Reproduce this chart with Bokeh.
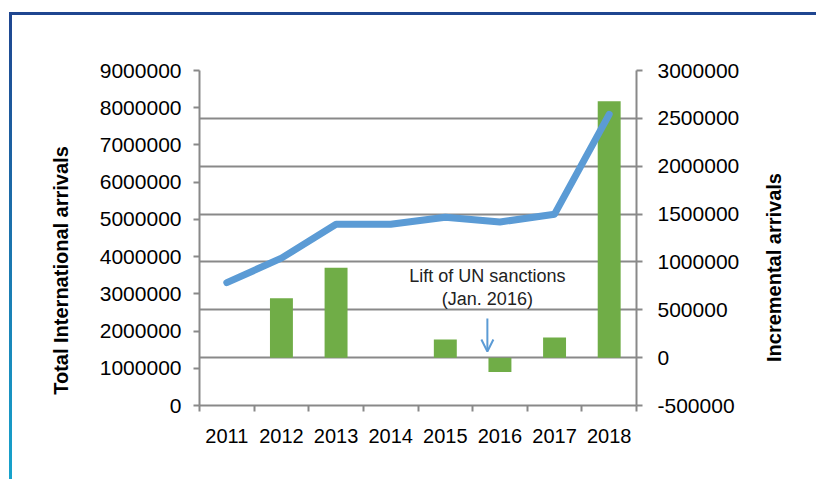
from math import pi
from bokeh.plotting import figure
from bokeh.models import (Range1d, LinearAxis, FixedTicker, Label, Arrow, OpenHead,
                          ColumnDataSource, Grid, NumeralTickFormatter)
from bokeh.layouts import column, row
from bokeh.embed import file_html
from bokeh.resources import INLINE

years = ["2011", "2012", "2013", "2014", "2015", "2016", "2017", "2018"]
total_arrivals = [3300000, 3960000, 4870000, 4870000, 5060000, 4930000, 5140000, 7820000]
incremental_arrivals = [0, 620000, 940000, 0, 190000, -150000, 210000, 2680000]
left_ticks = [0, 1000000, 2000000, 3000000, 4000000, 5000000, 6000000, 7000000, 8000000, 9000000]
right_ticks = [-500000, 0, 500000, 1000000, 1500000, 2000000, 2500000, 3000000]
left_title = "Total International arrivals"
right_title = "Incremental arrivals"

FONT = "Liberation Sans"
GRAY = "#898989"
H = 464

xpos = [i + 0.5 for i in range(len(years))]
src = ColumnDataSource(dict(x=xpos, total=total_arrivals, inc=incremental_arrivals))

p = figure(width=660, height=H, output_backend="svg", toolbar_location=None,
           x_range=Range1d(0, len(years)), y_range=Range1d(left_ticks[0], left_ticks[-1]),
           min_border_left=109, min_border_right=114, min_border_top=55, min_border_bottom=74,
           background_fill_color="white", border_fill_color="white")
p.outline_line_color = None
p.extra_y_ranges = {"inc": Range1d(right_ticks[0], right_ticks[-1])}

# grids from the right axis
p.xgrid.visible = False
p.ygrid.visible = False
g = Grid(dimension=1, ticker=FixedTicker(ticks=right_ticks), y_range_name="inc",
         grid_line_color=GRAY, grid_line_width=2)
p.add_layout(g)

# x axis
xa = p.xaxis[0]
xa.ticker = FixedTicker(ticks=xpos, minor_ticks=list(range(len(years) + 1)))
xa.major_label_overrides = {x: y for x, y in zip(xpos, years)}
xa.major_tick_out = 0
xa.major_tick_in = 0
xa.minor_tick_out = 6
xa.minor_tick_in = 0
xa.minor_tick_line_color = GRAY
xa.minor_tick_line_width = 2
xa.axis_line_color = GRAY
xa.axis_line_width = 2
xa.major_label_text_font = FONT
xa.major_label_text_font_size = "20px"
xa.major_label_text_color = "black"
xa.major_label_standoff = 17

# left axis
ya = p.yaxis[0]
ya.ticker = FixedTicker(ticks=left_ticks)
ya.formatter = NumeralTickFormatter(format="0")
ya.major_tick_out = 6
ya.major_tick_in = 0
ya.minor_tick_line_color = None
ya.major_tick_line_color = GRAY
ya.major_tick_line_width = 2
ya.axis_line_color = GRAY
ya.axis_line_width = 2
ya.major_label_text_font = FONT
ya.major_label_text_font_size = "21px"
ya.major_label_text_color = "black"
ya.major_label_standoff = 12

# right axis
ra = LinearAxis(y_range_name="inc", ticker=FixedTicker(ticks=right_ticks),
                formatter=NumeralTickFormatter(format="0"))
ra.major_tick_out = 6
ra.major_tick_in = 0
ra.minor_tick_line_color = None
ra.major_tick_line_color = GRAY
ra.major_tick_line_width = 2
ra.axis_line_color = GRAY
ra.axis_line_width = 2
ra.major_label_text_font = FONT
ra.major_label_text_font_size = "21px"
ra.major_label_text_color = "black"
ra.major_label_standoff = 15
p.add_layout(ra, "right")

# bars and line
p.vbar(x="x", width=0.42, bottom=0, top="inc", source=src, y_range_name="inc",
       fill_color="#70AD47", line_color=None)
p.line(x="x", y="total", source=src, line_color="#5B9BD5", line_width=7,
       line_cap="round", line_join="round")

# annotation
p.add_layout(Label(x=5.27, y=3490000, text="Lift of UN sanctions", text_align="center",
                   text_baseline="middle", text_font=FONT, text_font_size="18px",
                   text_color="#222222"))
p.add_layout(Label(x=5.27, y=2870000, text="(Jan. 2016)", text_align="center",
                   text_baseline="middle", text_font=FONT, text_font_size="18px",
                   text_color="#222222"))
p.add_layout(Arrow(x_start=5.27, y_start=2340000, x_end=5.27, y_end=1450000,
                   line_color="#5B9BD5", line_width=2,
                   end=OpenHead(size=12, line_color="#5B9BD5", line_width=2)))


def title_fig(width, text, sx, sy):
    f = figure(width=width, height=H, output_backend="svg", toolbar_location=None,
               x_range=Range1d(0, 1), y_range=Range1d(0, 1),
               x_axis_type=None, y_axis_type=None, min_border=0,
               background_fill_color="white", border_fill_color="white")
    f.outline_line_color = None
    f.grid.visible = False
    f.add_layout(Label(x=sx, y=sy, x_units="screen", y_units="screen", text=text,
                       angle=pi / 2, text_align="center", text_baseline="middle",
                       text_font=FONT, text_font_style="bold", text_font_size="20px",
                       text_color="black"))
    return f


# frames are aligned with the main plot's frame (y measured up from its bottom)
lf = title_fig(78, left_title, 48, 135)
rf = title_fig(66, right_title, 23, 138)

layout = column(row(lf, p, rf), styles={
    "margin-left": "9px", "margin-top": "12px",
    "padding-left": "3px", "padding-top": "3px",
    "background": "linear-gradient(#1F4690, #1F4690) top left / 100% 3px no-repeat, "
                  "linear-gradient(to bottom, #1F4690, #17A3CC) top left / 3px 100% no-repeat",
})

open("out.html", "w").write(file_html(layout, INLINE))
